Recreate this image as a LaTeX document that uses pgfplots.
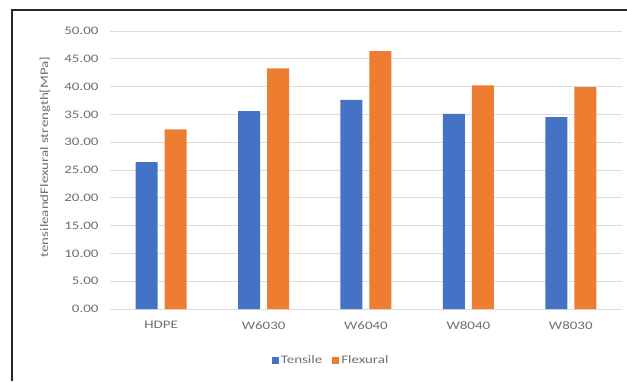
\documentclass[border=0pt]{standalone}
\usepackage{fontspec}
\setmainfont[FakeStretch=1.3]{Carlito}
\usepackage{pgfplots}
\pgfplotsset{compat=1.18}
\definecolor{tensileblue}{HTML}{4472C4}
\definecolor{flexorange}{HTML}{ED7D31}
\definecolor{txtgray}{HTML}{707070}
\definecolor{gridgray}{HTML}{DCDCDC}
\begin{document}
\begin{tikzpicture}[x=1pt,y=1pt]
\path[use as bounding box, fill=white] (0,0) rectangle (627,381);
% frame
\draw[line width=1.6pt, black!85] (12,0) -- (12,371) -- (627,371);
\begin{axis}[
  at={(110pt,72pt)}, anchor=south west,
  scale only axis, width=512pt, height=278pt,
  ybar=7pt, bar width=22pt,
  xmin=-0.5, xmax=4.5, ymin=0, ymax=50,
  xtick={0,1,2,3,4},
  xticklabels={HDPE,W6030,W6040,W8040,W8030},
  ytick={0,5,...,50},
  /pgf/number format/fixed,
  /pgf/number format/fixed zerofill,
  /pgf/number format/precision=2,
  /pgf/number format/assume math mode=true,
  yticklabel style={font=\fontsize{11.5}{13}\selectfont, text=txtgray, xshift=-8pt},
  xticklabel style={font=\fontsize{11.5}{13}\selectfont, text=txtgray, yshift=-9pt},
  major tick length=0pt,
  axis line style={draw=none},
  ymajorgrids, grid style={gridgray, line width=0.8pt},
  ylabel={tensileandFlexural strength[MPa]},
  ylabel style={at={(axis description cs:-0.127,0.547)}, anchor=center, font=\fontsize{11.5}{13}\selectfont, text=txtgray},
  legend style={at={(axis description cs:0.432,-0.185)}, anchor=center, draw=none,
    font=\fontsize{11.5}{13}\selectfont, text=txtgray, legend columns=2,
    /tikz/every even column/.append style={column sep=8pt}},
  legend image code/.code={\fill[#1] (0pt,-3.5pt) rectangle (7pt,3.5pt);},
]
\addplot[fill=tensileblue, draw=none] coordinates {(0,26.4) (1,35.6) (2,37.6) (3,35.1) (4,34.5)};
\addplot[fill=flexorange, draw=none] coordinates {(0,32.3) (1,43.3) (2,46.4) (3,40.2) (4,39.9)};
\legend{Tensile,Flexural}
\end{axis}
\end{tikzpicture}
\end{document}
